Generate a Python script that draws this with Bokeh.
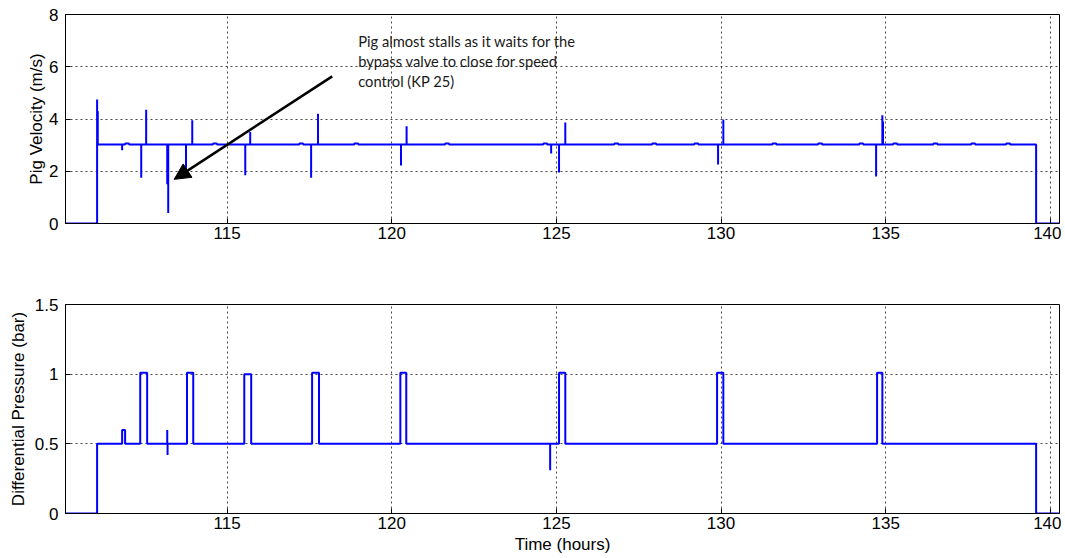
from bokeh.plotting import figure
from bokeh.layouts import column
from bokeh.models import Range1d, FixedTicker, NumeralTickFormatter, Label, Arrow, NormalHead
from bokeh.embed import file_html
from bokeh.resources import INLINE

# ---------------- data ----------------
t_start = 111.05          # pig launched (hours)
t_end = 139.57            # pig received (hours)

vel_base = 3.02
vel_spike_t = [111.05, 111.07, 111.81, 112.39, 112.54, 113.18, 113.21, 113.75, 113.94,
               115.55, 115.70, 117.55, 117.76, 120.28, 120.45, 124.84, 125.08, 125.27,
               129.91, 130.07, 134.71, 134.90, 134.92]
vel_spike_v = [4.75, 4.3, 2.8, 1.75, 4.35, 1.5, 0.4, 2.0, 3.95,
               1.85, 3.5, 1.75, 4.2, 2.22, 3.72, 2.68, 1.95, 3.87,
               2.26, 3.98, 1.8, 4.14, 3.9]
vel_bump_t = [111.9, 114.57, 117.19, 118.86, 121.62, 124.60, 126.76, 127.91, 129.19,
              131.56, 132.95, 134.20, 135.23, 136.45, 137.60, 138.66]
vel_bump_v = [3.06] * 16

dp_base = 0.5
dp_pulse_start = [111.81, 112.36, 113.78, 115.52, 117.58, 120.26, 125.08, 129.88, 134.74]
dp_pulse_end = [111.90, 112.57, 113.97, 115.73, 117.79, 120.44, 125.27, 130.07, 134.90]
dp_pulse_v = [0.6, 1.01, 1.01, 1.0, 1.01, 1.01, 1.01, 1.01, 1.01]
dp_spike_t = [113.18, 113.19, 124.81]
dp_spike_v = [0.6, 0.42, 0.31]

x_ticks = [115, 120, 125, 130, 135, 140]
vel_ticks = [0, 2, 4, 6, 8]
dp_ticks = [0, 0.5, 1, 1.5]

X0, X1 = 110.09, 140.28


def build(base, spikes_t, spikes_v, pul_s, pul_e, pul_v):
    ev = []
    for t, v in zip(spikes_t, spikes_v):
        ev.append((t, [(t, base), (t, v), (t, base)]))
    for s, e, v in zip(pul_s, pul_e, pul_v):
        ev.append((s, [(s, base), (s, v), (e, v), (e, base)]))
    ev.sort(key=lambda a: a[0])
    xs, ys = [X0, t_start, t_start], [0, 0, base]
    for _, pts in ev:
        for x, y in pts:
            xs.append(x)
            ys.append(y)
    xs += [t_end, t_end, X1]
    ys += [base, 0, 0]
    return xs, ys


vel_x, vel_y = build(vel_base, vel_spike_t, vel_spike_v,
                     vel_bump_t, [t + 0.12 for t in vel_bump_t], vel_bump_v)
dp_x, dp_y = build(dp_base, dp_spike_t, dp_spike_v,
                   dp_pulse_start, dp_pulse_end, dp_pulse_v)

FONT = "Liberation Sans"
FS = "17px"
BLUE = "#0000FF"


def style(p, yticks, ylabel, xlabel=None):
    p.outline_line_color = "black"
    p.outline_line_width = 1
    p.xaxis.ticker = FixedTicker(ticks=x_ticks)
    p.yaxis.ticker = FixedTicker(ticks=yticks)
    p.yaxis.formatter = NumeralTickFormatter(format="0.[0]")
    for ax in (p.xaxis[0], p.yaxis[0]):
        ax.major_tick_in = 5
        ax.major_tick_out = 0
        ax.minor_tick_line_color = None
        ax.axis_line_color = "black"
        ax.major_tick_line_color = "black"
        ax.major_label_text_font = FONT
        ax.major_label_text_font_size = FS
        ax.major_label_text_color = "black"
        ax.axis_label_text_font = FONT
        ax.axis_label_text_font_size = FS
        ax.axis_label_text_font_style = "normal"
        ax.axis_label_text_color = "black"
    p.xaxis.major_label_standoff = 3
    p.yaxis.major_label_standoff = 7
    p.yaxis.axis_label = ylabel
    if xlabel:
        p.xaxis.axis_label = xlabel
        p.xaxis.axis_label_standoff = 3
    for g in (p.xgrid[0], p.ygrid[0]):
        g.grid_line_color = "#333333"
        g.grid_line_dash = "2 3"
        g.grid_line_width = 1
        g.grid_line_alpha = 0.9
    p.background_fill_color = "white"
    p.border_fill_color = "white"


p1 = figure(width=1061, height=290, output_backend="svg", toolbar_location=None,
            x_range=Range1d(X0, X1), y_range=Range1d(0, 8),
            min_border_left=65, min_border_right=2, min_border_top=14, min_border_bottom=67)
p1.line(vel_x, vel_y, line_color=BLUE, line_width=2)
style(p1, vel_ticks, "Pig Velocity (m/s)")
p1.yaxis.axis_label_standoff = 0

# annotation
p1.add_layout(Arrow(end=NormalHead(size=16, fill_color="black", line_color="black"),
                    x_start=118.19, y_start=5.63, x_end=113.39, y_end=1.69,
                    line_color="black", line_width=2.5))
ann_lines = ["Pig almost stalls as it waits for the",
             "bypass valve to close for speed",
             "control (KP 25)"]
for i, txt in enumerate(ann_lines):
    p1.add_layout(Label(x=118.98, y=6.97, y_offset=-19.6 * i, text=txt,
                        text_font="Lato", text_font_size="14.7px",
                        text_color="#1a1a1a", text_baseline="middle", text_align="left"))

p2 = figure(width=1061, height=268, output_backend="svg", toolbar_location=None,
            x_range=Range1d(X0, X1), y_range=Range1d(0, 1.5),
            min_border_left=65, min_border_right=2, min_border_top=14, min_border_bottom=45)
p2.line(dp_x, dp_y, line_color=BLUE, line_width=2)
style(p2, dp_ticks, "Differential Pressure (bar)", "Time (hours)")
p2.yaxis.axis_label_standoff = 4

layout = column(p1, p2, spacing=0)
open("out.html", "w").write(file_html(layout, INLINE))
